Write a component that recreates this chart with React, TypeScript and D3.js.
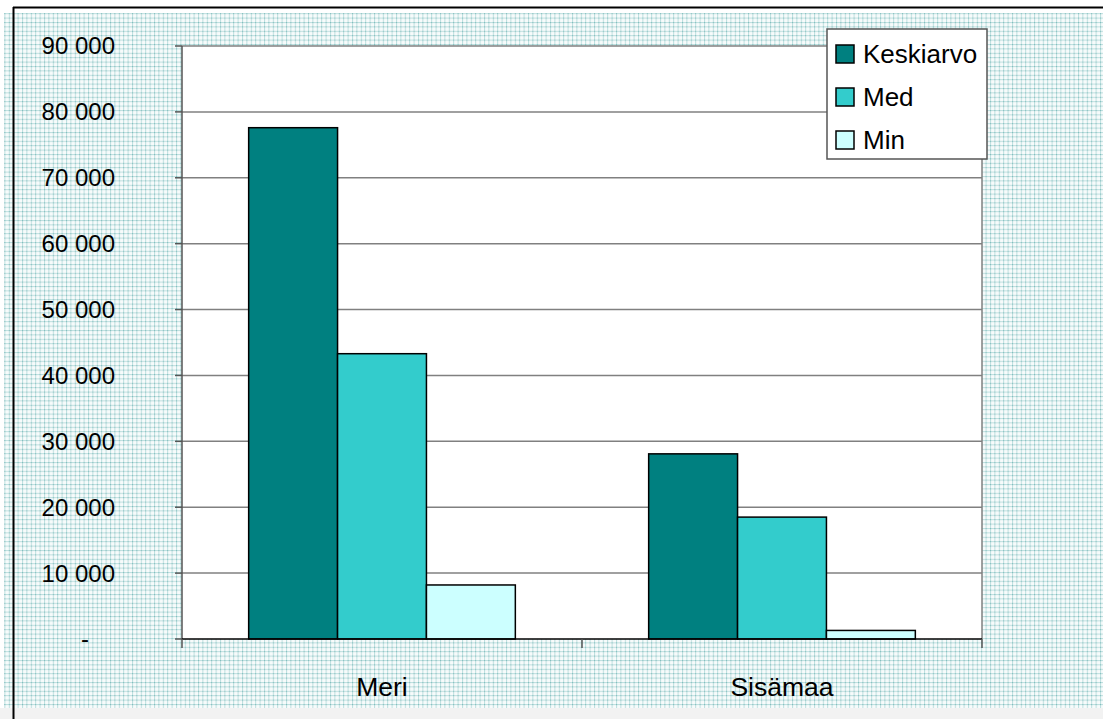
import React from "react";
import * as d3 from "d3";

const categories = ["Meri", "Sisämaa"];
const seriesNames = ["Keskiarvo", "Med", "Min"];
const seriesColors = ["#008080", "#33CCCC", "#CCFFFF"];
const keskiarvo = [77600, 28100];
const med = [43300, 18500];
const minVals = [8200, 1300];
const yTicks = [0, 10000, 20000, 30000, 40000, 50000, 60000, 70000, 80000, 90000];
const yTickLabels = ["-", "10 000", "20 000", "30 000", "40 000", "50 000", "60 000", "70 000", "80 000", "90 000"];

const W = 1103;
const H = 719;
const plot = { left: 182, right: 982, top: 46, bottom: 639 };

export default function App() {
  const series = [keskiarvo, med, minVals];
  const x0 = d3.scaleBand<string>().domain(categories).range([plot.left, plot.right]).paddingInner(0).paddingOuter(0);
  const groupW = x0.bandwidth() / 4.5 * 3;
  const x1 = d3.scaleBand<string>().domain(seriesNames).range([0, groupW]).padding(0);
  const y = d3.scaleLinear().domain([0, 90000]).range([plot.bottom, plot.top]);
  const font = "'Liberation Sans', Arial, sans-serif";

  return (
    <svg width={W} height={H} style={{ position: "absolute", left: 0, top: 0, display: "block" }}>
      <defs>
        <pattern id="bgpat" width="4.4" height="4.4" patternUnits="userSpaceOnUse">
          <rect width="4.4" height="4.4" fill="#f7fbfb" />
          <rect x="0" y="0" width="4.4" height="1" fill="#bcdede" />
          <rect x="0" y="0" width="1" height="4.4" fill="#bcdede" />
          <rect x="0" y="0" width="1" height="1" fill="#7dbaba" />
        </pattern>
      </defs>
      <rect x={0} y={0} width={W} height={H} fill="#ffffff" />
      <rect x={0} y={708} width={W} height={11} fill="#f2f2f2" />
      <rect x={4} y={13} width={W - 4} height={695} fill="url(#bgpat)" />
      <line x1={13} x2={W} y1={7.5} y2={7.5} stroke="#000" strokeWidth={2} />
      <line x1={13.5} x2={13.5} y1={7} y2={H} stroke="#000" strokeWidth={2} />

      <rect x={plot.left} y={plot.top} width={plot.right - plot.left} height={plot.bottom - plot.top} fill="#ffffff" />
      {yTicks.map((t, i) =>
        t > 0 ? (
          <line key={"g" + i} x1={plot.left} x2={plot.right} y1={y(t)} y2={y(t)} stroke="#808080" strokeWidth={1.5} />
        ) : null
      )}
      <line x1={plot.right} x2={plot.right} y1={plot.top} y2={plot.bottom} stroke="#808080" strokeWidth={1.5} />

      {categories.map((c, ci) =>
        series.map((s, si) => {
          const bx = (x0(c) as number) + (x0.bandwidth() - groupW) / 2 + (x1(seriesNames[si]) as number);
          return (
            <rect
              key={c + si}
              x={bx}
              y={y(s[ci])}
              width={x1.bandwidth()}
              height={plot.bottom - y(s[ci])}
              fill={seriesColors[si]}
              stroke="#000"
              strokeWidth={1.5}
            />
          );
        })
      )}

      <line x1={plot.left} x2={plot.left} y1={plot.top} y2={plot.bottom} stroke="#555" strokeWidth={1.5} />
      {yTicks.map((t, i) => (
        <line key={"t" + i} x1={plot.left - 7} x2={plot.left} y1={y(t)} y2={y(t)} stroke="#555" strokeWidth={1.5} />
      ))}
      <line x1={plot.left} x2={plot.right} y1={plot.bottom} y2={plot.bottom} stroke="#000" strokeWidth={1.5} />
      {[plot.left, ...categories.map((c) => (x0(c) as number) + x0.bandwidth())].map((xx, i) => (
        <line key={"ct" + i} x1={xx} x2={xx} y1={plot.bottom} y2={plot.bottom + 9} stroke="#555" strokeWidth={1.5} />
      ))}

      {yTicks.map((t, i) => (
        <text
          key={"l" + i}
          x={t === 0 ? 89 : 115}
          y={y(t)}
          dy="0.35em"
          textAnchor="end"
          fontFamily={font}
          fontSize={24}
          fill="#000"
        >
          {yTickLabels[i]}
        </text>
      ))}
      {categories.map((c) => (
        <text
          key={"c" + c}
          x={(x0(c) as number) + x0.bandwidth() / 2}
          y={687}
          dy="0.35em"
          textAnchor="middle"
          fontFamily={font}
          fontSize={26.5}
          fill="#000"
        >
          {c}
        </text>
      ))}

      <g>
        <rect x={827} y={29} width={160} height={130} fill="#ffffff" stroke="#555" strokeWidth={1.5} />
        {seriesNames.map((n, i) => (
          <g key={n} transform={`translate(0, ${i * 43})`}>
            <rect x={836} y={45} width={18} height={18} fill={seriesColors[i]} stroke="#000" strokeWidth={1.5} />
            <text x={863} y={54} dy="0.35em" fontFamily={font} fontSize={26} fill="#000">
              {n}
            </text>
          </g>
        ))}
      </g>
    </svg>
  );
}
